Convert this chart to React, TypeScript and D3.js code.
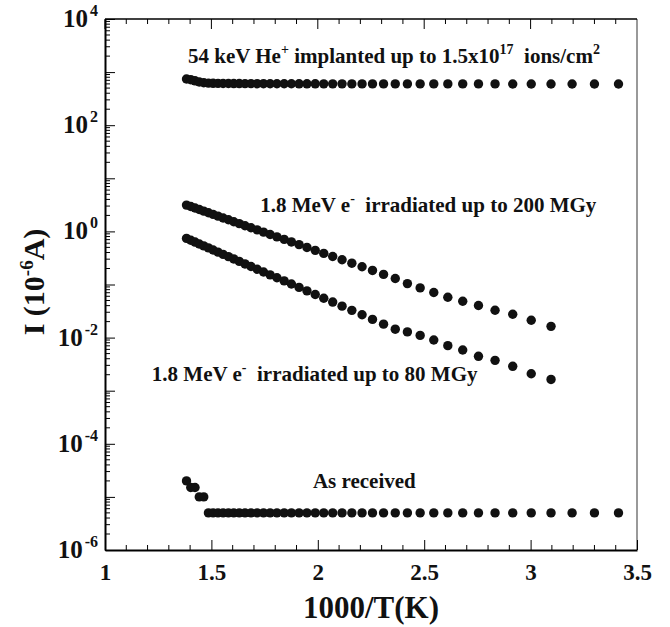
import { useEffect, useRef } from "react";
import * as d3 from "d3";

// 1000/T (K^-1 x 1000), one point every 10 K from 723 K down to 293 K
const invTemp = [
  1.383, 1.403, 1.423, 1.443, 1.464, 1.486, 1.508, 1.531, 1.555, 1.58, 1.605,
  1.631, 1.658, 1.686, 1.715, 1.745, 1.776, 1.808, 1.842, 1.876, 1.912, 1.949,
  1.988, 2.028, 2.07, 2.114, 2.16, 2.208, 2.257, 2.309, 2.364, 2.421, 2.481,
  2.545, 2.611, 2.681, 2.755, 2.833, 2.916, 3.003, 3.096, 3.195, 3.3, 3.413,
];

// current in 10^-6 A
const heImplanted = [
  740, 720, 685, 650, 630, 620, 615, 612, 610, 610, 608, 608, 606, 606, 605,
  605, 604, 604, 603, 603, 602, 602, 602, 601, 601, 601, 600, 600, 600, 600,
  600, 600, 600, 600, 600, 600, 600, 600, 598, 598, 598, 598, 598, 598,
];
const irr200 = [
  3.13, 2.94, 2.76, 2.58, 2.41, 2.25, 2.09, 1.94, 1.79, 1.66, 1.52, 1.4, 1.28,
  1.17, 1.07, 0.968, 0.875, 0.788, 0.708, 0.633, 0.564, 0.499, 0.44, 0.386,
  0.337, 0.292, 0.252, 0.216, 0.184, 0.155, 0.13, 0.104, 0.0863, 0.0706,
  0.0576, 0.0484, 0.0402, 0.0327, 0.0275, 0.0212, 0.0163,
];
const irr80 = [
  0.738, 0.682, 0.63, 0.58, 0.533, 0.489, 0.447, 0.407, 0.37, 0.335, 0.303,
  0.272, 0.244, 0.218, 0.194, 0.172, 0.152, 0.134, 0.117, 0.102, 0.0881,
  0.0759, 0.0649, 0.0552, 0.0467, 0.0391, 0.0326, 0.0269, 0.022, 0.0179,
  0.0144, 0.0128, 0.011, 0.009, 0.00706, 0.00583, 0.00444, 0.00373, 0.00288,
  0.00209, 0.00163,
];
const asReceived = [
  2e-5, 1.5e-5, 1.5e-5, 1e-5, 1e-5, 5e-6, 5e-6, 5e-6, 5e-6, 5e-6, 5e-6, 5e-6,
  5e-6, 5e-6, 5e-6, 5e-6, 5e-6, 5e-6, 5e-6, 5e-6, 5e-6, 5e-6, 5e-6, 5e-6,
  5e-6, 5e-6, 5e-6, 5e-6, 5e-6, 5e-6, 5e-6, 5e-6, 5e-6, 5e-6, 5e-6, 5e-6,
  5e-6, 5e-6, 5e-6, 5e-6, 5e-6, 5e-6, 5e-6, 5e-6,
];

const xTicks = [1, 1.5, 2, 2.5, 3, 3.5];
const yTickExps = [4, 2, 0, -2, -4, -6];

const FONT = "'Liberation Serif', 'Times New Roman', serif";

export default function App() {
  const ref = useRef<SVGSVGElement>(null);

  useEffect(() => {
    const svg = d3.select(ref.current);
    svg.selectAll("*").remove();

    const left = 105, right = 637, top = 19, bottom = 550;
    const x = d3.scaleLinear().domain([1, 3.5]).range([left, right]);
    const y = d3.scaleLog().domain([1e-6, 1e4]).range([bottom, top]);

    const g = svg.append("g").attr("font-family", FONT).attr("font-weight", "bold");

    // frame: right side is grey, the others black
    g.append("line").attr("x1", right).attr("x2", right).attr("y1", top).attr("y2", bottom)
      .attr("stroke", "#777").attr("stroke-width", 1.5);
    g.append("line").attr("x1", left).attr("x2", right).attr("y1", top).attr("y2", top)
      .attr("stroke", "#000").attr("stroke-width", 1.5);

    // x axis, ticks inward, mirrored on top
    const xMinor = d3.range(11, 35).map((d) => d / 10).filter((d) => !xTicks.includes(d));
    const xAxis = d3.axisBottom(x).tickValues(xTicks).tickSizeInner(-10).tickSizeOuter(0)
      .tickPadding(14).tickFormat(d3.format("~g"));
    const xg = g.append("g").attr("transform", `translate(0,${bottom})`).call(xAxis);
    xg.select(".domain").attr("stroke-width", 2);
    xg.selectAll("text").attr("font-size", 23).attr("font-family", FONT).attr("fill", "#111");
    xg.selectAll(".minor").data(xMinor).enter().append("line").attr("class", "minor")
      .attr("x1", (d) => x(d)).attr("x2", (d) => x(d)).attr("y1", 0).attr("y2", -5)
      .attr("stroke", "#000");
    const topTicks = [...xTicks.slice(0, -1).map((d) => ({ v: d, l: 10 })), ...xMinor.map((d) => ({ v: d, l: 5 }))];
    g.selectAll(".ttick").data(topTicks).enter().append("line")
      .attr("x1", (d) => x(d.v)).attr("x2", (d) => x(d.v)).attr("y1", top).attr("y2", (d) => top + d.l)
      .attr("stroke", "#000");

    // y axis, log decades
    const decades = d3.range(-6, 5).map((e) => Math.pow(10, e));
    const yMinor: number[] = [];
    decades.slice(0, -1).forEach((p) => { for (let k = 2; k < 10; k++) yMinor.push(p * k); });
    const yAxis = d3.axisLeft(y).tickValues(decades).tickSizeInner(-10).tickSizeOuter(0).tickFormat(() => "");
    const yg = g.append("g").attr("transform", `translate(${left},0)`).call(yAxis);
    yg.select(".domain").attr("stroke-width", 2);
    yg.selectAll(".minor").data(yMinor).enter().append("line").attr("class", "minor")
      .attr("y1", (d) => y(d)).attr("y2", (d) => y(d)).attr("x1", 0).attr("x2", 5)
      .attr("stroke", "#000");

    yTickExps.forEach((e) => {
      const t = g.append("text").attr("x", 98).attr("y", y(Math.pow(10, e)) + 8)
        .attr("text-anchor", "end").attr("fill", "#111");
      t.append("tspan").attr("font-size", 25).text("10");
      t.append("tspan").attr("font-size", 16).attr("dy", -11).attr("dx", 2).text(String(e));
    });

    // axis titles
    g.append("text").attr("x", (left + right) / 2).attr("y", 618).attr("text-anchor", "middle")
      .attr("font-size", 31).attr("fill", "#111").text("1000/T(K)");
    const yt = g.append("text").attr("transform", "translate(44,282) rotate(-90)")
      .attr("text-anchor", "middle").attr("font-size", 30).attr("fill", "#111");
    yt.append("tspan").text("I (10");
    yt.append("tspan").attr("font-size", 19).attr("dy", -11).text("-6");
    yt.append("tspan").attr("dy", 11).text("A)");

    // points
    const series = [heImplanted, irr200, irr80, asReceived];
    series.forEach((vals) => {
      g.append("g").selectAll("circle").data(vals).enter().append("circle")
        .attr("cx", (d, i) => x(invTemp[i])).attr("cy", (d) => y(d)).attr("r", 4.7)
        .attr("fill", "#111");
    });

    // annotations
    const note = (xv: number, yv: number, parts: [string, boolean][]) => {
      const t = g.append("text").attr("x", x(xv)).attr("y", y(yv)).attr("font-size", 21)
        .attr("fill", "#111").style("white-space", "pre");
      parts.forEach(([s, sup], i) => {
        const prevSup = i > 0 && parts[i - 1][1];
        const ts = t.append("tspan").text(s);
        if (sup) ts.attr("font-size", 14).attr("dy", -9);
        else if (prevSup) ts.attr("dy", 9);
      });
    };
    note(1.39, 1500, [["54 keV He", false], ["+", true], [" implanted up to 1.5x10", false], ["17", true], ["  ions/cm", false], ["2", true]]);
    note(1.729, 2.31, [["1.8 MeV e", false], ["-", true], ["  irradiated up to 200 MGy", false]]);
    note(1.22, 1.5e-3, [["1.8 MeV e", false], ["-", true], ["  irradiated up to 80 MGy", false]]);
    note(1.977, 1.44e-5, [["As received", false]]);
  }, []);

  return (
    <svg ref={ref} width={670} height={627}
      style={{ position: "absolute", left: 0, top: 0, background: "#fff" }} />
  );
}
